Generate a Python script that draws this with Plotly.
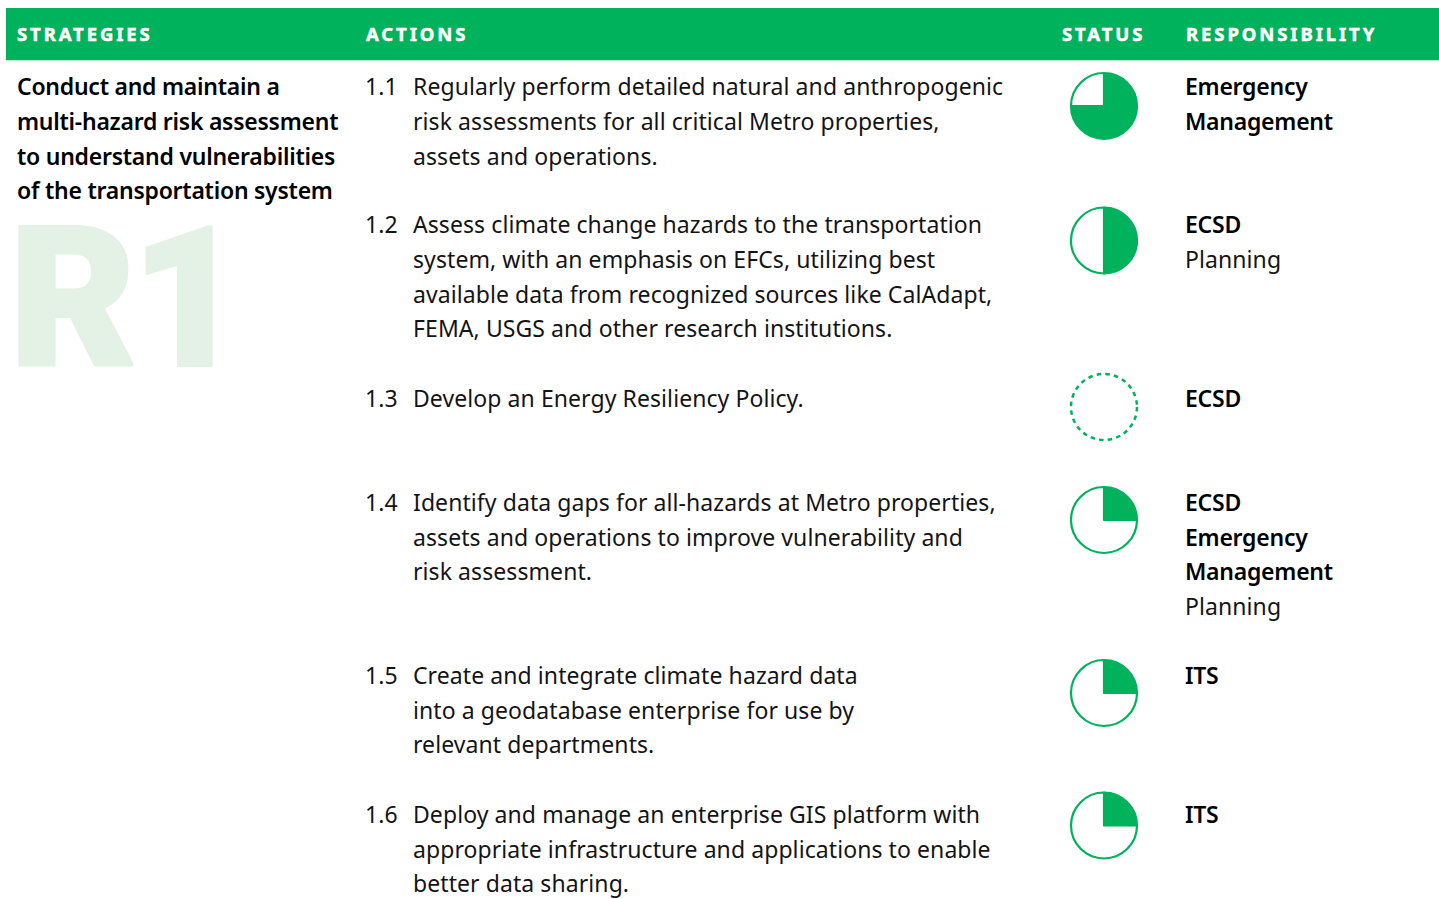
import json
import plotly.graph_objects as go

# ---- content ----
headers = ["STRATEGIES", "ACTIONS", "STATUS", "RESPONSIBILITY"]
strategy_lines = ["Conduct and maintain a", "multi-hazard risk assessment",
                  "to understand vulnerabilities", "of the transportation system"]
watermark = "R1"
action_ids = ["1.1", "1.2", "1.3", "1.4", "1.5", "1.6"]
action_lines = [
    ["Regularly perform detailed natural and anthropogenic",
     "risk assessments for all critical Metro properties,",
     "assets and operations."],
    ["Assess climate change hazards to the transportation",
     "system, with an emphasis on EFCs, utilizing best",
     "available data from recognized sources like CalAdapt,",
     "FEMA, USGS and other research institutions."],
    ["Develop an Energy Resiliency Policy."],
    ["Identify data gaps for all-hazards at Metro properties,",
     "assets and operations to improve vulnerability and",
     "risk assessment."],
    ["Create and integrate climate hazard data",
     "into a geodatabase enterprise for use by",
     "relevant departments."],
    ["Deploy and manage an enterprise GIS platform with",
     "appropriate infrastructure and applications to enable",
     "better data sharing."],
]
status_percent = [75, 50, 0, 25, 25, 25]
responsibility = [
    [("Emergency", True), ("Management", True)],
    [("ECSD", True), ("Planning", False)],
    [("ECSD", True)],
    [("ECSD", True), ("Emergency", True), ("Management", True), ("Planning", False)],
    [("ITS", True)],
    [("ITS", True)],
]

# ---- layout (pixels) ----
W, H = 1439, 899
GREEN = "#00B25C"
INK = "#141414"
FONT = "Noto Sans"
LINE = 34.6
row_y = [86.4, 224.4, 398, 502, 675, 814]
icon_y = [106, 240.5, 407, 520, 693, 825.5]
ICON_X, ICON_R = 1104, 33
header_x = [16, 364.5, 1060.5, 1184.5]


def px(x):
    return x / W


def py(y):
    return 1 - y / H


fig = go.Figure()
ann = []


def text(x, y, s, size=23, bold=False, color=INK, family=FONT, weight=None):
    ann.append(dict(
        x=px(x), y=py(y), xref="paper", yref="paper", xanchor="left", yanchor="middle",
        text=s, showarrow=False, align="left", borderpad=0,
        font=dict(size=size, color=color, family=family,
                  weight=weight if weight else (600 if bold else 400)),
    ))


for x, s in zip(header_x, headers):
    text(x, 33.8, s, size=18.5, color="#FFFFFF", weight=700)

text(9, 299, watermark, size=193, color="#E4F2E6", family="Roboto", weight=900)

for i, s in enumerate(strategy_lines):
    text(16, 86.4 + i * LINE, s, bold=True, color="#000000")

for i, aid in enumerate(action_ids):
    text(364, row_y[i], aid)
    for j, s in enumerate(action_lines[i]):
        text(412, row_y[i] + j * LINE, s)
    for j, (s, b) in enumerate(responsibility[i]):
        text(1184, row_y[i] + j * LINE, s, bold=b, color="#000000" if b else INK)

shapes = [
    dict(type="rect", xref="paper", yref="paper", x0=px(6), x1=px(W), y0=py(8), y1=py(60),
         fillcolor=GREEN, line_width=0, layer="below"),
    dict(type="line", xref="paper", yref="paper", x0=px(6), x1=px(W), y0=py(60.5), y1=py(60.5),
         line=dict(color="#B5EBD2", width=1), layer="below"),
]

for cy, pct in zip(icon_y, status_percent):
    if pct == 0:
        shapes.append(dict(
            type="circle", xref="paper", yref="paper",
            x0=px(ICON_X - ICON_R), x1=px(ICON_X + ICON_R),
            y0=py(cy - ICON_R), y1=py(cy + ICON_R),
            line=dict(color=GREEN, width=2.5, dash="4.5px,4.2px"),
        ))
    else:
        fig.add_trace(go.Pie(
            values=[pct, 100 - pct], sort=False, direction="clockwise", rotation=0,
            marker=dict(colors=[GREEN, "#FFFFFF"], line=dict(color=GREEN, width=2.2)),
            textinfo="none", hoverinfo="skip", showlegend=False,
            domain=dict(x=[px(ICON_X - ICON_R), px(ICON_X + ICON_R)],
                        y=[py(cy + ICON_R), py(cy - ICON_R)]),
        ))

fig.update_layout(
    width=W, height=H, margin=dict(l=0, r=0, t=0, b=0), autosize=False,
    paper_bgcolor="#FFFFFF", plot_bgcolor="#FFFFFF", showlegend=False,
    annotations=ann, shapes=shapes,
)

spacing = {h: 2.9 for h in headers}
spacing[watermark] = -4
post = ("document.body.style.margin='0';document.body.style.overflow='hidden';"
        "var sp=" + json.dumps(spacing) + ";var wm=" + json.dumps(watermark) + ";"
        "document.querySelectorAll('.annotation-text').forEach(function(t){"
        "var k=t.textContent;var w=String(t.style.fontWeight);"
        "var d=(k in sp)?sp[k]:(w==='600'?-0.25:0.08);"
        "t.style.letterSpacing=d+'px';"
        "if(k===wm){t.style.stroke='#E4F2E6';t.style.strokeWidth='4px';}"
        "else if(k in sp){t.style.stroke='#FFFFFF';t.style.strokeWidth='0.5px';}"
        "});")
fig.write_html("out.html", config={"displayModeBar": False}, post_script=post)
